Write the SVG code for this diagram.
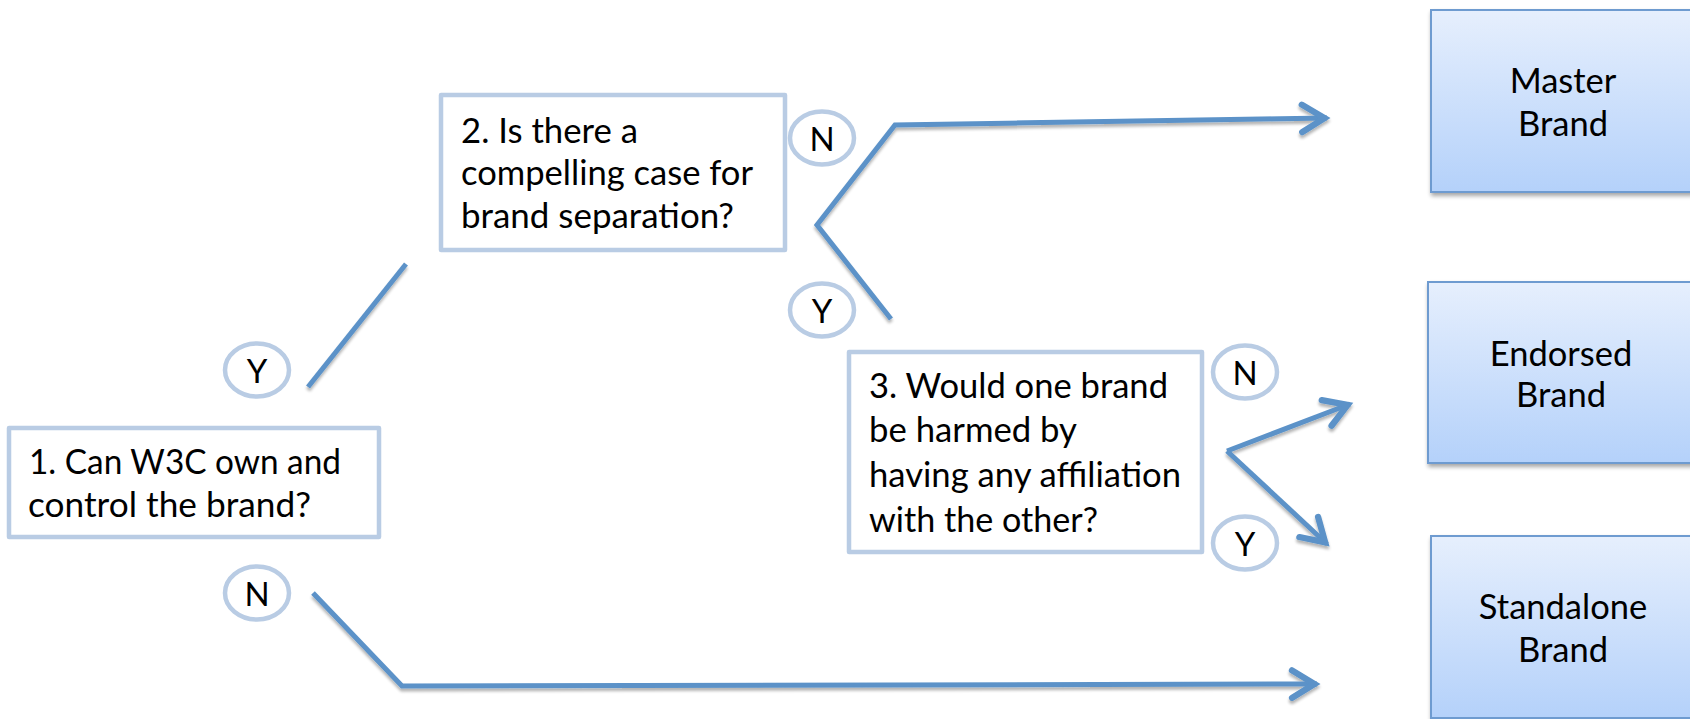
<svg xmlns="http://www.w3.org/2000/svg" width="1690" height="719" viewBox="0 0 1690 719">
  <style>
    .q { fill: #ffffff; stroke: #b9cce4; stroke-width: 4.5; stroke-linejoin: round; }
    .qt { font-family: Lato, "Open Sans", sans-serif; font-size: 34.5px; fill: #000000; }
    .tag { fill: #ffffff; stroke: #b9cce4; stroke-width: 4.5; }
    .tagt { font-family: Lato, "Open Sans", sans-serif; font-size: 33px; fill: #000000; text-anchor: middle; }
    .brand { fill: url(#brandFill); stroke: #6e9bd0; stroke-width: 2; filter: url(#boxShadow); }
    .bt { font-family: Lato, "Open Sans", sans-serif; font-size: 34.5px; fill: #000000; text-anchor: middle; }
    .wire { fill: none; stroke: #5b92c8; stroke-width: 5; stroke-linejoin: miter; }
  </style>
  <defs>
    <linearGradient id="brandFill" x1="0" y1="0" x2="0" y2="1">
      <stop offset="0" stop-color="#e6effd"/>
      <stop offset="1" stop-color="#b4d1fa"/>
    </linearGradient>
    <filter id="boxShadow" x="-10%" y="-10%" width="130%" height="130%">
      <feGaussianBlur in="SourceAlpha" stdDeviation="2"/>
      <feOffset dx="1" dy="3" result="b"/>
      <feComponentTransfer><feFuncA type="linear" slope="0.35"/></feComponentTransfer>
      <feMerge><feMergeNode/><feMergeNode in="SourceGraphic"/></feMerge>
    </filter>
    <filter id="lineShadow" x="-5%" y="-20%" width="110%" height="150%">
      <feGaussianBlur in="SourceAlpha" stdDeviation="1.5"/>
      <feOffset dx="0" dy="3" result="b"/>
      <feComponentTransfer><feFuncA type="linear" slope="0.3"/></feComponentTransfer>
      <feMerge><feMergeNode/><feMergeNode in="SourceGraphic"/></feMerge>
    </filter>
    <marker id="chev" markerUnits="userSpaceOnUse" markerWidth="40" markerHeight="40" refX="2" refY="0" viewBox="-26 -16 32 32" orient="auto" overflow="visible">
      <path d="M-18,-11 L0,0 L-18,11" fill="none" stroke="#5b92c8" stroke-width="5" stroke-linecap="round" stroke-linejoin="miter"/>
    </marker>
  </defs>

  <!-- connectors -->
  <g id="connectors" filter="url(#lineShadow)">
    <path class="wire" d="M308,387 L406,264"/>
    <path class="wire" d="M313,593 L402,686 L1317,684" marker-end="url(#chev)"/>
    <path class="wire" d="M891,319 L817,225 L895,125 L1327,118" marker-end="url(#chev)"/>
    <path class="wire" d="M1227,451 L1350,404" marker-end="url(#chev)"/>
    <path class="wire" d="M1227,451 L1327,544" marker-end="url(#chev)"/>
  </g>

  <!-- question 1 -->
  <g id="q1">
    <rect class="q" x="9" y="428" width="370" height="109"/>
    <text class="qt" x="29" y="474" textLength="312" lengthAdjust="spacingAndGlyphs">1. Can W3C own and</text>
    <text class="qt" x="28" y="517" textLength="283" lengthAdjust="spacingAndGlyphs">control the brand?</text>
  </g>
  <g id="q1-yes">
    <ellipse class="tag" cx="257" cy="370" rx="32" ry="26.5"/>
    <text class="tagt" x="257" y="383">Y</text>
  </g>
  <g id="q1-no">
    <ellipse class="tag" cx="257" cy="593" rx="32" ry="26.5"/>
    <text class="tagt" x="257" y="606">N</text>
  </g>

  <!-- question 2 -->
  <g id="q2">
    <rect class="q" x="441" y="95" width="344" height="155"/>
    <text class="qt" x="461" y="143" textLength="177" lengthAdjust="spacingAndGlyphs">2. Is there a</text>
    <text class="qt" x="461" y="185" textLength="292" lengthAdjust="spacingAndGlyphs">compelling case for</text>
    <text class="qt" x="461" y="228" textLength="273" lengthAdjust="spacingAndGlyphs">brand separation?</text>
  </g>
  <g id="q2-no">
    <ellipse class="tag" cx="822" cy="138" rx="32" ry="26.5"/>
    <text class="tagt" x="822" y="151">N</text>
  </g>
  <g id="q2-yes">
    <ellipse class="tag" cx="822" cy="310" rx="32" ry="26.5"/>
    <text class="tagt" x="822" y="323">Y</text>
  </g>

  <!-- question 3 -->
  <g id="q3">
    <rect class="q" x="849" y="352" width="353" height="200"/>
    <text class="qt" x="869" y="398" textLength="299" lengthAdjust="spacingAndGlyphs">3. Would one brand</text>
    <text class="qt" x="869" y="442" textLength="208" lengthAdjust="spacingAndGlyphs">be harmed by</text>
    <text class="qt" x="869" y="487" textLength="312" lengthAdjust="spacingAndGlyphs">having any affiliation</text>
    <text class="qt" x="869" y="532" textLength="229" lengthAdjust="spacingAndGlyphs">with the other?</text>
  </g>
  <g id="q3-no">
    <ellipse class="tag" cx="1245" cy="372" rx="32" ry="26.5"/>
    <text class="tagt" x="1245" y="385">N</text>
  </g>
  <g id="q3-yes">
    <ellipse class="tag" cx="1245" cy="543" rx="32" ry="26.5"/>
    <text class="tagt" x="1245" y="556">Y</text>
  </g>

  <!-- outcomes -->
  <g id="master-brand">
    <rect class="brand" x="1431" y="10" width="262" height="182"/>
    <text class="bt" x="1563" y="93">Master</text>
    <text class="bt" x="1563" y="136">Brand</text>
  </g>
  <g id="endorsed-brand">
    <rect class="brand" x="1428" y="282" width="265" height="181"/>
    <text class="bt" x="1561" y="366">Endorsed</text>
    <text class="bt" x="1561" y="407">Brand</text>
  </g>
  <g id="standalone-brand">
    <rect class="brand" x="1431" y="536" width="262" height="182"/>
    <text class="bt" x="1563" y="619">Standalone</text>
    <text class="bt" x="1563" y="662">Brand</text>
  </g>
</svg>
